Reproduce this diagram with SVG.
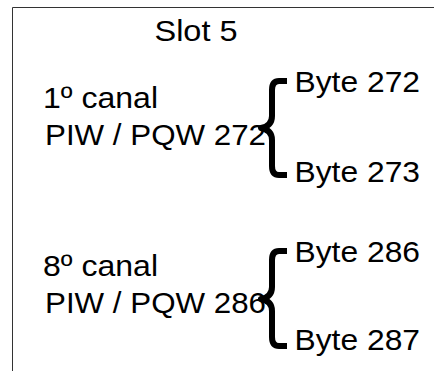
<svg xmlns="http://www.w3.org/2000/svg" width="434" height="371" viewBox="0 0 434 371">
<style>
.t{font-family:"Liberation Sans",Arial,sans-serif;font-size:30px;fill:#000}
.brace{fill:none;stroke:#000;stroke-width:6;stroke-linejoin:round}
.frame{fill:none;stroke:#333;stroke-width:1}
</style>
<rect width="434" height="371" fill="#fff"/>
<path class="frame" d="M12.5,372 V7.5 H435"/>
<g id="slot"><text class="t" x="154.5" y="41" textLength="83" lengthAdjust="spacingAndGlyphs">Slot 5</text></g>
<g id="canal1">
<text class="t" x="43" y="108" textLength="115" lengthAdjust="spacingAndGlyphs">1º canal</text>
<text class="t" x="45" y="145" textLength="221" lengthAdjust="spacingAndGlyphs">PIW / PQW 272</text>
</g>
<g id="byte272"><text class="t" x="294.5" y="92" textLength="125.5" lengthAdjust="spacingAndGlyphs">Byte 272</text></g>
<g id="byte273"><text class="t" x="294.5" y="182" textLength="125.5" lengthAdjust="spacingAndGlyphs">Byte 273</text></g>
<g id="canal8">
<text class="t" x="43" y="276" textLength="115" lengthAdjust="spacingAndGlyphs">8º canal</text>
<text class="t" x="45" y="313" textLength="221" lengthAdjust="spacingAndGlyphs">PIW / PQW 286</text>
</g>
<g id="byte286"><text class="t" x="294.5" y="262" textLength="125.5" lengthAdjust="spacingAndGlyphs">Byte 286</text></g>
<g id="byte287"><text class="t" x="294.5" y="350" textLength="125.5" lengthAdjust="spacingAndGlyphs">Byte 287</text></g>
<g id="connectors">
<path class="brace" d="M287,81 H279 Q272,81 272,90 V116 Q272,126 261,128 Q272,130 272,140 V166 Q272,175 279,175 H287"/>
<path class="brace" d="M287,251 H279 Q272,251 272,260 V287 Q272,297 261,299 Q272,301 272,311 V337 Q272,346 279,346 H287"/>
</g>
</svg>
